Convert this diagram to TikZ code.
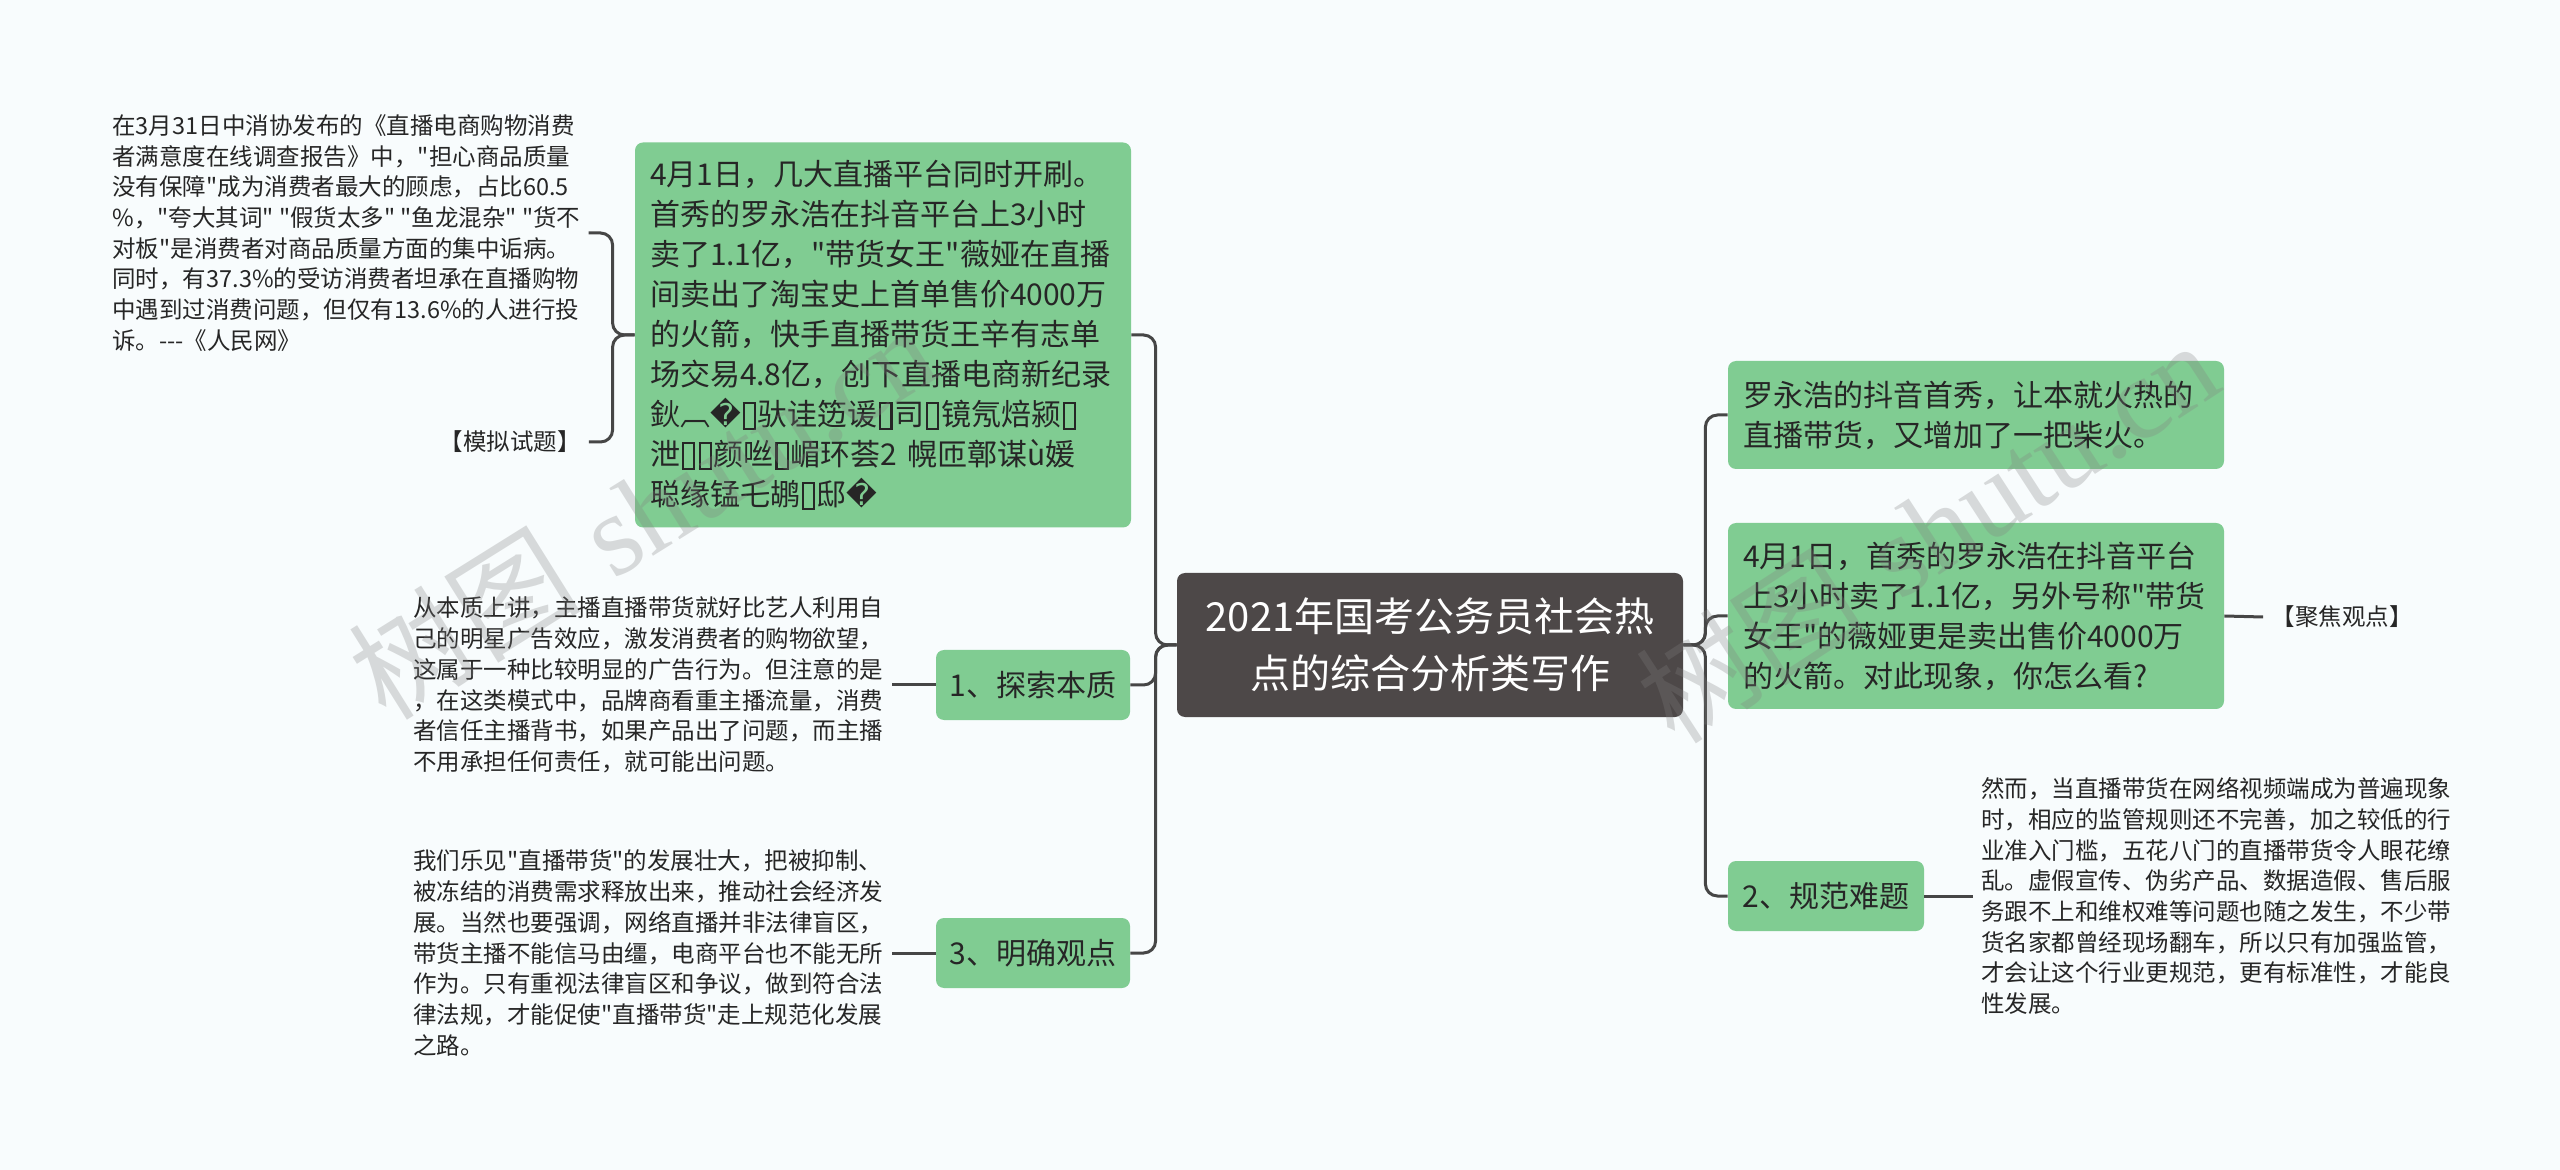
\documentclass[tikz,border=0pt]{standalone}
\usepackage{fontspec}
\newfontfamily\cjk{Noto Sans CJK SC}
\newfontfamily\dejavu{DejaVu Sans}
\newfontfamily\wmserif{Liberation Serif}
\definecolor{bg}{RGB}{248,252,253}
\definecolor{nodegreen}{RGB}{128,204,146}
\definecolor{centerfill}{RGB}{77,72,72}
\definecolor{linecol}{RGB}{70,70,70}
\definecolor{txt}{RGB}{38,38,38}
\newcommand\tofu{\kern0.06em\raisebox{-0.06em}{\setlength\fboxsep{0pt}\setlength\fboxrule{0.07em}\fbox{\rule{0pt}{0.78em}\hspace{0.3em}}}\kern0.06em}
\newcommand\repl{{\dejavu\symbol{"FFFD}}}
\begin{document}
\begin{tikzpicture}[x=0.5pt,y=-0.5pt,
  conn/.style={draw=linecol, line width=1.5pt, rounded corners=6pt},
  rootbox/.style={fill=centerfill, rounded corners=4pt, text=white, font=\cjk\fontsize{20pt}{28.5pt}\selectfont, align=center, minimum width=253pt, minimum height=72pt, inner sep=0pt},
  greenbox/.style={fill=nodegreen, rounded corners=4pt, text=txt, font=\cjk\fontsize{15pt}{20pt}\selectfont, align=left, inner xsep=7.5pt, inner ysep=0pt},
  tagbox/.style={fill=nodegreen, rounded corners=4pt, text=txt, font=\cjk\fontsize{15pt}{20pt}\selectfont, align=center, minimum width=97pt, minimum height=35pt, inner sep=0pt},
  smalltext/.style={text=txt, font=\cjk\fontsize{11.75pt}{15.35pt}\selectfont, align=left, inner xsep=4pt, inner ysep=0pt},
  watermark/.style={text=gray, text opacity=0.28, font=\fontsize{58pt}{58pt}\selectfont, inner sep=0pt}
]
\useasboundingbox (0,0) rectangle (2560,1170);
\fill[bg] (0,0) rectangle (2560,1170);

% central
\node[rootbox] (C) at (1430,645) {2021年国考公务员社会热\\点的综合分析类写作};

% left branch
\node[greenbox, text width=233pt, minimum height=192.5pt] (B) at (883,335) {4月1日，几大直播平台同时开刷。\\
首秀的罗永浩在抖音平台上3小时\\
卖了1.1亿，"带货女王"薇娅在直播\\
间卖出了淘宝史上首单售价4000万\\
的火箭，快手直播带货王辛有志单\\
场交易4.8亿，创下直播电商新纪录\\
鈥︹\repl\tofu 驮诖笾谖\tofu 司\tofu 镜氖焙颍\tofu\\
泄\tofu\tofu 颜咝\tofu 嵋环荟2 幌匝鄣谋ù媛\\
聪缘锰乇鹕\tofu 邸\repl};
\node[tagbox] (L1) at (1033,685) {1、探索本质};
\node[tagbox] (L3) at (1033,953) {3、明确观点};

\node[smalltext, anchor=west] (T0) at (104,233) {在3月31日中消协发布的《直播电商购物消费\\
者满意度在线调查报告》中，"担心商品质量\\
没有保障"成为消费者最大的顾虑，占比60.5\\
\%，"夸大其词" "假货太多" "鱼龙混杂" "货不\\
对板"是消费者对商品质量方面的集中诟病。\\
同时，有37.3\%的受访消费者坦承在直播购物\\
中遇到过消费问题，但仅有13.6\%的人进行投\\
诉。---《人民网》};
\node[smalltext] (M) at (510,442) {【模拟试题】};

\node[smalltext, anchor=west] (T1) at (405,685) {从本质上讲，主播直播带货就好比艺人利用自\\
己的明星广告效应，激发消费者的购物欲望，\\
这属于一种比较明显的广告行为。但注意的是\\
，在这类模式中，品牌商看重主播流量，消费\\
者信任主播背书，如果产品出了问题，而主播\\
不用承担任何责任，就可能出问题。};

\node[smalltext, anchor=west] (T3) at (405,953) {我们乐见"直播带货"的发展壮大，把被抑制、\\
被冻结的消费需求释放出来，推动社会经济发\\
展。当然也要强调，网络直播并非法律盲区，\\
带货主播不能信马由缰，电商平台也不能无所\\
作为。只有重视法律盲区和争议，做到符合法\\
律法规，才能促使"直播带货"走上规范化发展\\
之路。};

% right branch
\node[greenbox, text width=233pt, minimum height=54pt] (R1) at (1976,415) {罗永浩的抖音首秀，让本就火热的\\
直播带货，又增加了一把柴火。};
\node[greenbox, text width=233pt, minimum height=93pt] (R2) at (1976,616) {4月1日，首秀的罗永浩在抖音平台\\
上3小时卖了1.1亿，另外号称"带货\\
女王"的薇娅更是卖出售价4000万\\
的火箭。对此现象，你怎么看?};
\node[tagbox, minimum width=98pt] (R3) at (1826,896) {2、规范难题};
\node[smalltext] (M2) at (2342,617) {【聚焦观点】};
\node[smalltext, anchor=west] (T2) at (1973,896) {然而，当直播带货在网络视频端成为普遍现象\\
时，相应的监管规则还不完善，加之较低的行\\
业准入门槛，五花八门的直播带货令人眼花缭\\
乱。虚假宣传、伪劣产品、数据造假、售后服\\
务跟不上和维权难等问题也随之发生，不少带\\
货名家都曾经现场翻车，所以只有加强监管，\\
才会让这个行业更规范，更有标准性，才能良\\
性发展。};

% connectors
\draw[conn] (C.west) -- ++(-21,0) |- (B.east);
\draw[conn] (C.west) -- ++(-21,0) |- (L1.east);
\draw[conn] (C.west) -- ++(-21,0) |- (L3.east);
\draw[conn] (C.east) -- ++(22,0) |- (R1.west);
\draw[conn] (C.east) -- ++(22,0) |- (R2.west);
\draw[conn] (C.east) -- ++(22,0) |- (R3.west);
\draw[conn] (B.west) -- ++(-22,0) |- (T0.east);
\draw[conn] (B.west) -- ++(-22,0) |- (M.east);
\draw[conn] (L1.west) -- (T1.east);
\draw[conn] (L3.west) -- (T3.east);
\draw[conn] (R3.east) -- (T2.west);
\draw[conn] (R2.east) -- (M2.west);

% watermarks
\node[watermark, rotate=32] (W1) at (642,511) {{\cjk 树图} {\wmserif shutu.cn}};
\node[watermark, rotate=33] (W2) at (1927,531) {{\cjk 树图} {\wmserif shutu.cn}};
\end{tikzpicture}
\end{document}
